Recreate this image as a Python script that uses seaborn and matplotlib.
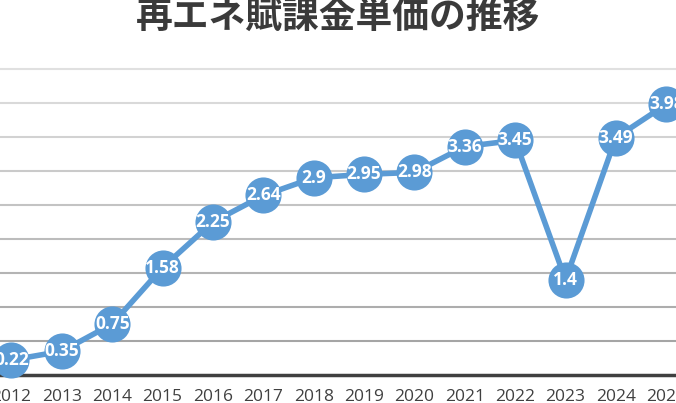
import numpy as np
import pandas as pd
import matplotlib
matplotlib.use("Agg")
import matplotlib.pyplot as plt
import seaborn as sns

# data
years = [2012, 2013, 2014, 2015, 2016, 2017, 2018, 2019, 2020, 2021, 2022, 2023, 2024, 2025]
rates = [0.22, 0.35, 0.75, 1.58, 2.25, 2.64, 2.9, 2.95, 2.98, 3.36, 3.45, 1.4, 3.49, 3.98]
labels = ["0.22", "0.35", "0.75", "1.58", "2.25", "2.64", "2.9", "2.95", "2.98", "3.36", "3.45", "1.4", "3.49", "3.98"]
title = "再エネ賦課金単価の推移"

df = pd.DataFrame({"year": years, "rate": rates})

sns.set_style("white")
plt.rcParams["font.family"] = ["Open Sans", "Noto Sans CJK JP", "DejaVu Sans"]

blue = "#5b9bd5"
W, H = 676, 403
fig = plt.figure(figsize=(W / 100, H / 100), dpi=100)
# axes spans full width; bottom at pixel 375, top (4.5) at pixel 69
ax = fig.add_axes([0, (H - 375) / H, 1, (375 - 69) / H])

sns.lineplot(data=df, x="year", y="rate", ax=ax, color=blue, linewidth=4,
             marker="o", markersize=26, markeredgewidth=0, clip_on=False, zorder=3)

for x, y, t in zip(years, rates, labels):
    ax.text(x, y, t, ha="center", va="center", color="white", fontsize=12.5,
            fontweight="bold", zorder=4)

ax.set_xlim(2011.772, 2025.193)
ax.set_ylim(0, 4.5)

# gridlines get darker toward the bottom
grid_vals = np.arange(0.5, 4.51, 0.5)
for v in grid_vals:
    frac = v / 4.5
    g = 0.62 + 0.26 * frac
    ax.axhline(v, color=(g, g, g), linewidth=1.5, zorder=1, clip_on=False)

ax.set_yticks([])
ax.set_xticks(years)
ax.set_xticklabels([str(y) for y in years], fontsize=12.5, color="#404040")
ax.tick_params(axis="x", length=0, pad=10)
ax.set_xlabel("")
ax.set_ylabel("")

for s in ["top", "left", "right"]:
    ax.spines[s].set_visible(False)
ax.spines["bottom"].set_color("#404040")
ax.spines["bottom"].set_linewidth(2.5)

fig.text(0.5, 1 - 17 / H, title, ha="center", va="center", fontsize=26.5,
         fontweight="bold", color="#3a3a3a", family=["Noto Sans CJK JP", "DejaVu Sans"])

fig.savefig("out.png", dpi=100)
